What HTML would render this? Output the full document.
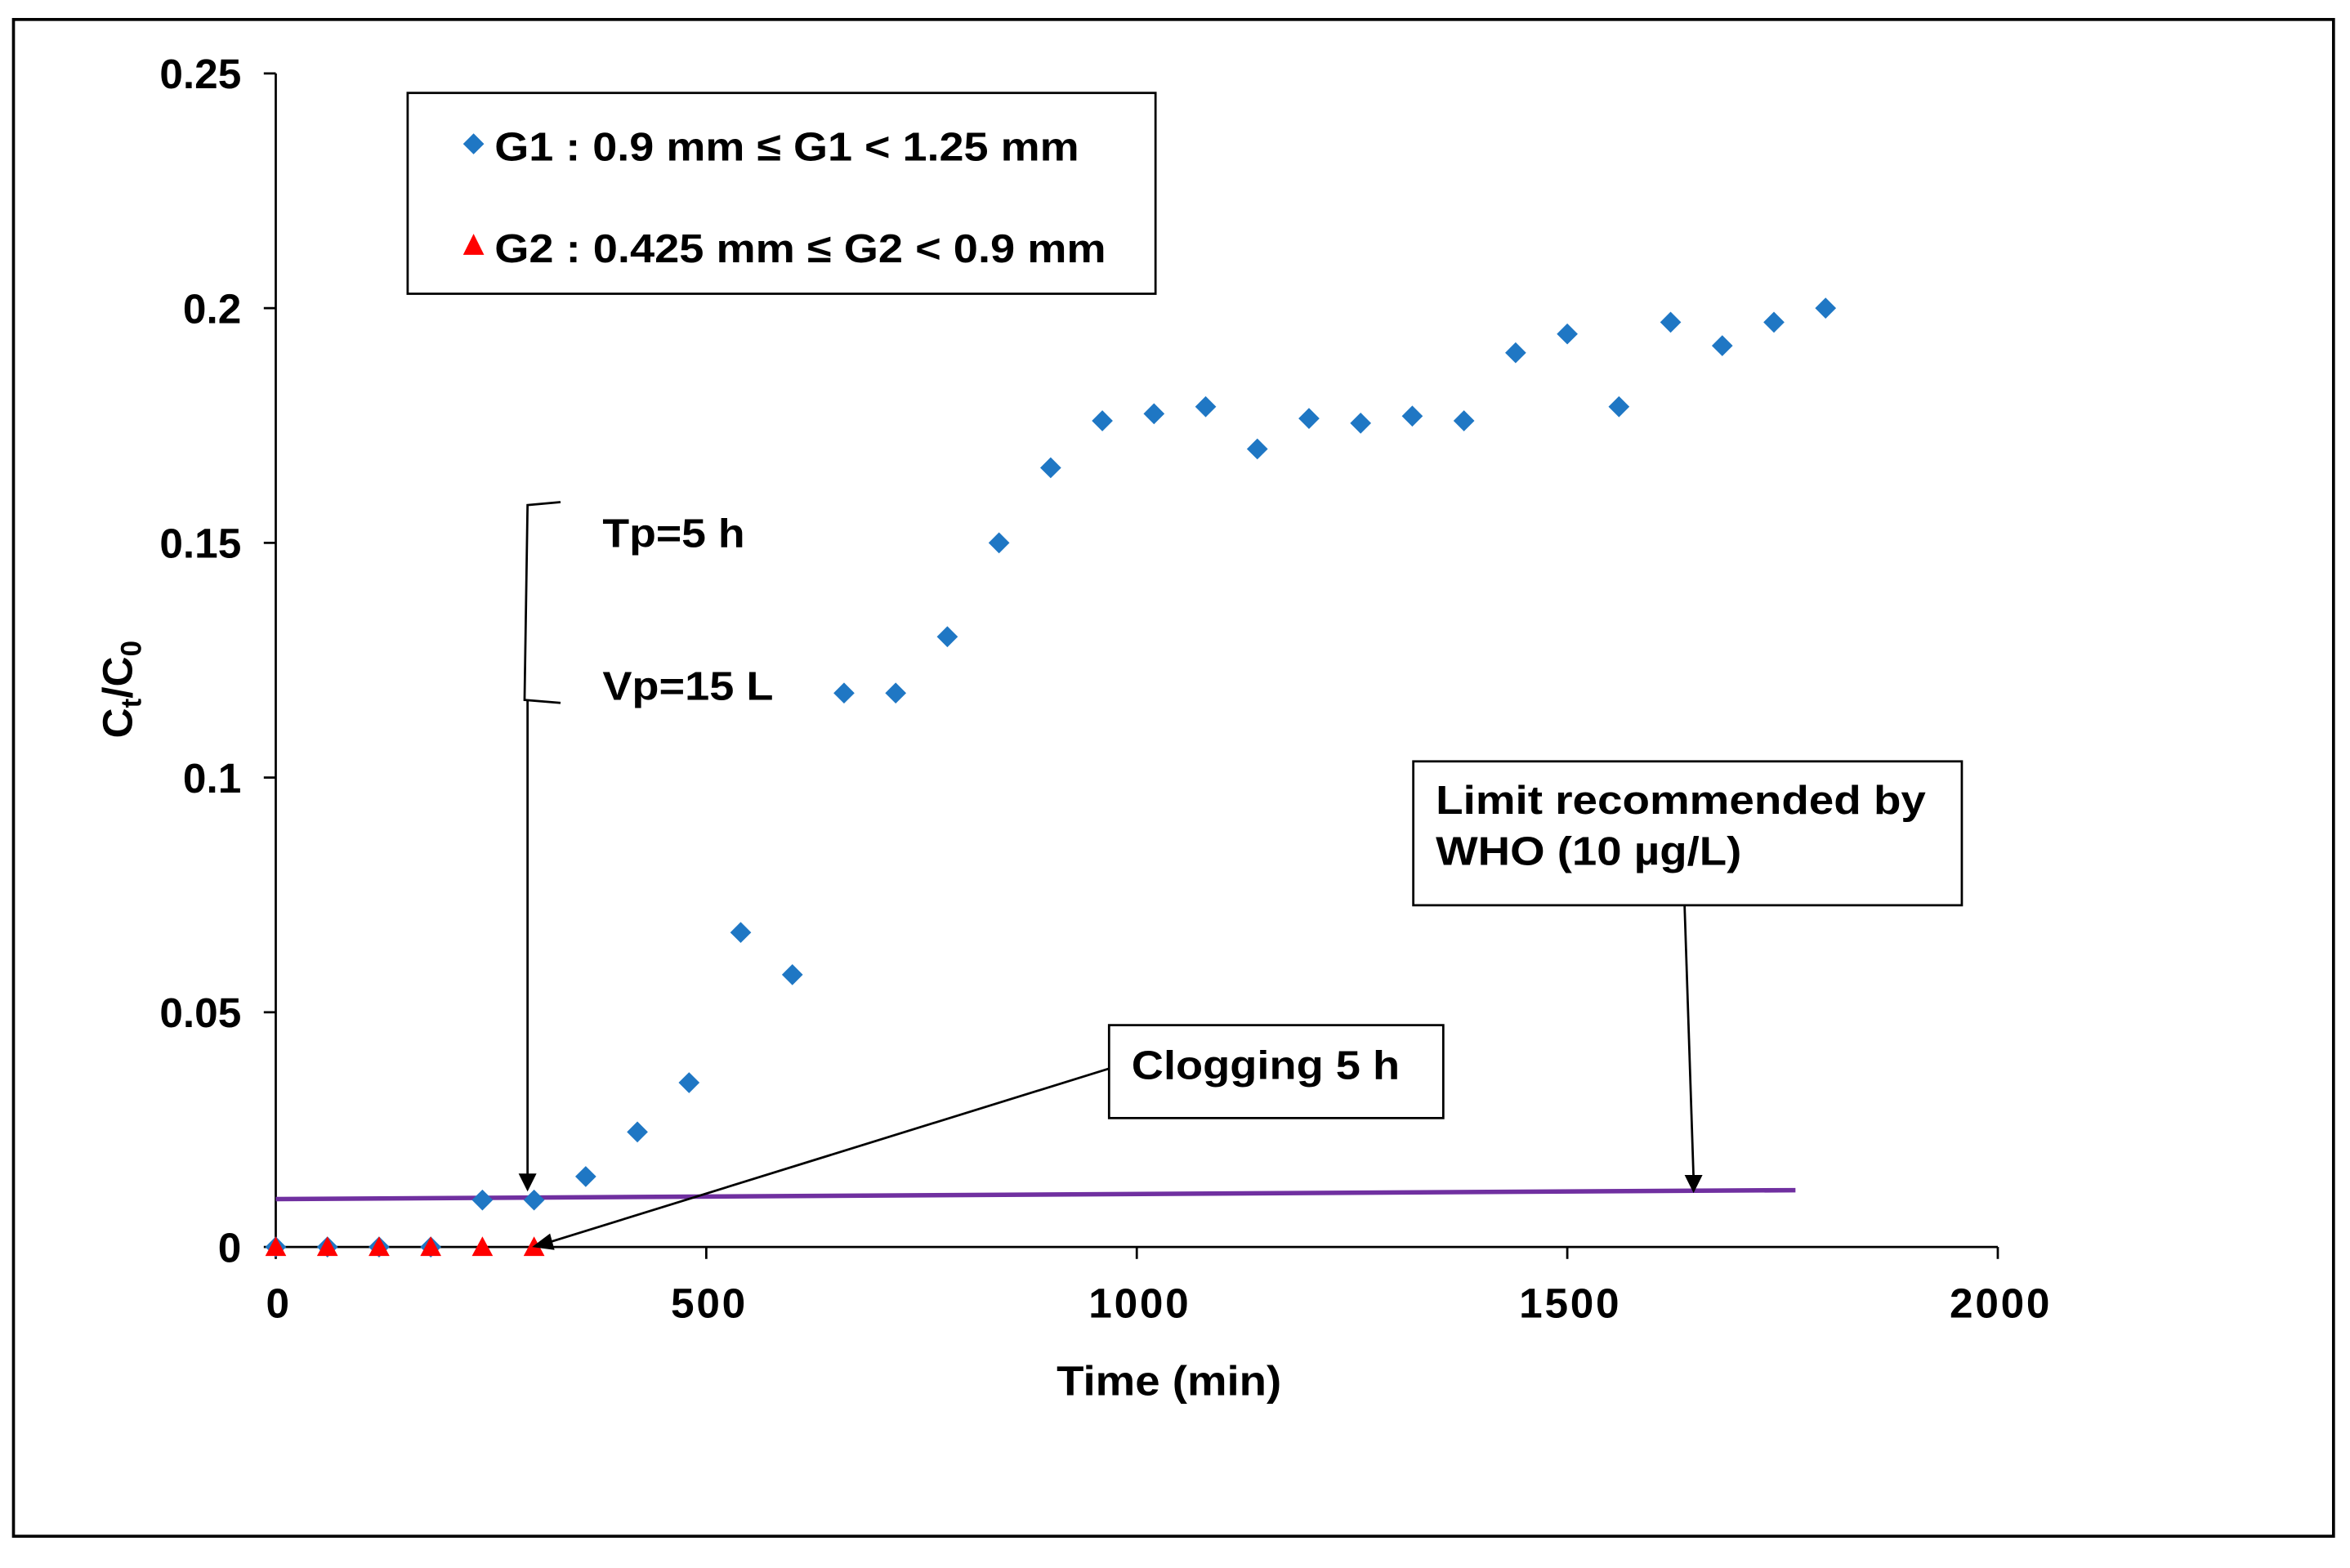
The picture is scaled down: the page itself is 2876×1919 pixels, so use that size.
<!DOCTYPE html>
<html><head><meta charset="utf-8"><style>
html,body{margin:0;padding:0;background:#fff;}
svg{display:block;}
text{font-family:"Liberation Sans",Arial,sans-serif;font-weight:bold;fill:#000;}
</style></head><body>
<svg id="chart" width="2876" height="1919" viewBox="0 0 1568 1046.2" preserveAspectRatio="none" xmlns="http://www.w3.org/2000/svg">
<rect x="9" y="13" width="1548" height="1012" fill="#fff" stroke="#000" stroke-width="2"/>
<g id="axes"></g>
<g id="marks"></g>
<g>
<rect x="272" y="62" width="499" height="134" fill="#fff" stroke="#000" stroke-width="1.5"/>
<path d="M316 89 L323 96 L316 103 L309 96Z" fill="#1f77c4"/>
<text x="330" y="107" font-size="27" textLength="390" lengthAdjust="spacingAndGlyphs">G1 : 0.9 mm ≤ G1 &lt; 1.25 mm</text>
<path d="M316 156 L323 170 L309 170Z" fill="#ff0000"/>
<text x="330" y="175" font-size="27" textLength="408" lengthAdjust="spacingAndGlyphs">G2 : 0.425 mm ≤ G2 &lt; 0.9 mm</text>
</g>
<path d="M374 335 L352 337 L350 467 L374 469" fill="none" stroke="#000" stroke-width="1.5"/>
<text x="402" y="365" font-size="27" textLength="95" lengthAdjust="spacingAndGlyphs">Tp=5 h</text>
<text x="402" y="467" font-size="27" textLength="114" lengthAdjust="spacingAndGlyphs">Vp=15 L</text>
<line x1="352" y1="467" x2="352" y2="785" stroke="#000" stroke-width="1.5"/>
<path d="M346 783 L352 795 L358 783Z" fill="#000"/>
<rect x="740" y="684" width="223" height="62" fill="#fff" stroke="#000" stroke-width="1.5"/>
<text x="755" y="720" font-size="27" textLength="179" lengthAdjust="spacingAndGlyphs">Clogging 5 h</text>
<line x1="740" y1="713" x2="366" y2="829" stroke="#000" stroke-width="1.5"/>
<path d="M355 832 L367 823 L370 834Z" fill="#000"/>
<rect x="943" y="508" width="366" height="96" fill="#fff" stroke="#000" stroke-width="1.5"/>
<text font-size="27"><tspan x="958" y="543" textLength="327" lengthAdjust="spacingAndGlyphs">Limit recommended by</tspan><tspan x="958" y="577" textLength="204" lengthAdjust="spacingAndGlyphs">WHO (10 µg/L)</tspan></text>
<line x1="1124" y1="604" x2="1130" y2="786" stroke="#000" stroke-width="1.5"/>
<path d="M1124 784 L1130 796 L1136 784Z" fill="#000"/>
<text x="705" y="931" font-size="28" textLength="150" lengthAdjust="spacingAndGlyphs">Time (min)</text>
<text transform="translate(88,460) rotate(-90)" font-size="28" text-anchor="middle">C<tspan font-size="19" dy="6">t</tspan><tspan dy="-6">/C</tspan><tspan font-size="19" dy="6">0</tspan></text>
</svg>
<script>
const g1Time=[0,60,120,180,240,300,360,420,480,540,600,660,720,780,840,900,960,1020,1080,1140,1200,1260,1320,1380,1440,1500,1560,1620,1680,1740,1800];
const g1Ratio=[0,0,0,0,0.01,0.01,0.015,0.0245,0.035,0.067,0.058,0.118,0.118,0.130,0.150,0.166,0.176,0.1775,0.179,0.170,0.1765,0.1755,0.177,0.176,0.1905,0.1945,0.179,0.197,0.192,0.197,0.200];
const g2Time=[0,60,120,180,240,300];
const g2Ratio=[0,0,0,0,0,0];
const whoTime=[0,1765];
const whoRatio=[0.0102,0.0121];
const xTicks=[0,500,1000,1500,2000];
const yTicks=[0,0.05,0.1,0.15,0.2,0.25];
const yTickLabels=["0","0.05","0.1","0.15","0.2","0.25"];
const NS="http://www.w3.org/2000/svg";
const x=v=>184+v*(1333-184)/2000;
const y=v=>832-v*(832-49)/0.25;
function mk(tag,attrs,parent){const e=document.createElementNS(NS,tag);for(const k in attrs)e.setAttribute(k,attrs[k]);parent.appendChild(e);return e;}
const axes=document.getElementById('axes'),marks=document.getElementById('marks');
let a=mk('line',{x1:184,y1:49,x2:184,y2:832,stroke:'#000','stroke-width':1.5},axes);


a=mk('line',{x1:184,y1:832,x2:1333,y2:832,stroke:'#000','stroke-width':1.5},axes);


yTicks.forEach((t,i)=>{
 mk('line',{x1:176,y1:y(t),x2:184,y2:y(t),stroke:'#000','stroke-width':1.5},axes);
 const tx=mk('text',{x:161,y:y(t)+10,'font-size':28,'text-anchor':'end'},axes);
 tx.textContent=yTickLabels[i];
 
 
});
xTicks.forEach(t=>{
 mk('line',{x1:x(t),y1:832,x2:x(t),y2:840,stroke:'#000','stroke-width':1.5},axes);
 const tx=mk('text',{x:x(t)+2,y:879,'font-size':28,'text-anchor':'middle','letter-spacing':1.5},axes);
 tx.textContent=String(t);
 
 
});
const wl=mk('line',{x1:x(whoTime[0]),y1:y(whoRatio[0]),x2:x(whoTime[1]),y2:y(whoRatio[1]),stroke:'#7030a0','stroke-width':3},marks);


g1Time.forEach((t,i)=>{
 const cx=x(t),cy=y(g1Ratio[i]);
 const p=mk('path',{d:`M${cx} ${cy-7} L${cx+7} ${cy} L${cx} ${cy+7} L${cx-7} ${cy}Z`,fill:'#1f77c4'},marks);
 
 
});
g2Time.forEach((t,i)=>{
 const cx=x(t),cy=y(g2Ratio[i]);
 const p=mk('path',{d:`M${cx} ${cy-7} L${cx+7} ${cy+6} L${cx-7} ${cy+6}Z`,fill:'#ff0000'},marks);
 
 
});
</script>
</body></html>
